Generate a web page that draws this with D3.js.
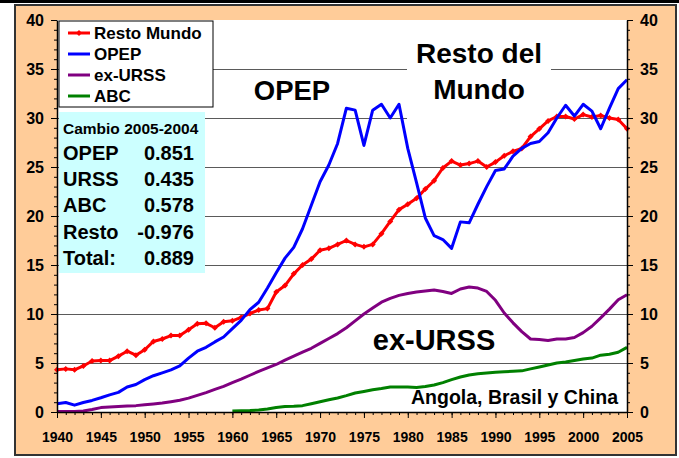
<!DOCTYPE html>
<meta charset="utf-8">
<title>Producción de petróleo 1940-2005</title>
<script src="https://cdn.jsdelivr.net/npm/d3@7"></script>
<style>
body {
	margin: 0;
	background: #fff;
}
svg {
	display: block;
	font-family: 'Liberation Sans', Arial, sans-serif;
	font-weight: bold;
}
</style>
<body>
<script>
// Data (millones de barriles diarios)
const years = d3.range(1940, 2006);
const abcYears = d3.range(1960, 2006);
const restoMundo = [
	4.3, 4.4, 4.3, 4.7, 5.2, 5.25, 5.25, 5.7, 6.2, 5.8,
	6.35, 7.2, 7.45, 7.8, 7.8, 8.4, 9.0, 9.05, 8.6, 9.2,
	9.3, 9.65, 10.05, 10.4, 10.55, 12.25, 12.9, 14.1, 15.0, 15.6,
	16.5, 16.7, 17.1, 17.5, 17.1, 16.85, 17.1, 18.2, 19.45, 20.65,
	21.2, 21.8, 22.75, 23.6, 24.9, 25.6, 25.2, 25.35, 25.6, 25.0,
	25.5, 26.15, 26.6, 26.9, 28.1, 28.9, 29.7, 30.15, 30.15, 29.9,
	30.35, 30.1, 30.25, 30.0, 29.85, 28.9,
];
const opep = [
	0.84, 0.97, 0.7, 0.97, 1.18, 1.45, 1.75, 2.0, 2.55, 2.8,
	3.3, 3.7, 4.0, 4.3, 4.7, 5.5, 6.2, 6.6, 7.15, 7.65,
	8.5, 9.35, 10.45, 11.2, 12.65, 14.2, 15.7, 16.8, 18.7, 21.1,
	23.5, 25.2, 27.4, 31.0, 30.8, 27.2, 30.8, 31.4, 30.0, 31.4,
	26.9, 23.4, 19.8, 18.0, 17.6, 16.7, 19.4, 19.3, 21.2, 23.0,
	24.65, 24.8, 26.1, 26.9, 27.4, 27.6, 28.5, 30.0, 31.3, 30.2,
	31.4, 30.7, 28.9, 31.0, 33.0, 33.9,
];
const exUrss = [
	0.05, 0.05, 0.05, 0.1, 0.25, 0.45, 0.5, 0.55, 0.6, 0.65,
	0.73, 0.82, 0.92, 1.05, 1.2, 1.42, 1.7, 1.98, 2.3, 2.62,
	3.0, 3.35, 3.75, 4.15, 4.5, 4.85, 5.3, 5.7, 6.1, 6.5,
	7.0, 7.5, 8.0, 8.6, 9.3, 10.0, 10.6, 11.2, 11.6, 11.9,
	12.1, 12.25, 12.35, 12.45, 12.3, 12.1, 12.55, 12.75, 12.65, 12.3,
	11.4, 10.1, 9.1, 8.2, 7.45, 7.4, 7.3, 7.45, 7.45, 7.6,
	8.1, 8.75, 9.6, 10.5, 11.45, 11.97,
];
const abc = [
	0.1, 0.12, 0.15, 0.2, 0.3, 0.45, 0.55, 0.58, 0.65, 0.85,
	1.05, 1.25, 1.43, 1.67, 1.94, 2.1, 2.28, 2.4, 2.55, 2.55,
	2.55, 2.5, 2.6, 2.75, 3.0, 3.3, 3.57, 3.78, 3.9, 3.98,
	4.05, 4.1, 4.15, 4.2, 4.4, 4.6, 4.8, 5.0, 5.1, 5.25,
	5.4, 5.5, 5.8, 5.9, 6.1, 6.6,
];
const seriesNames = ['Resto Mundo', 'OPEP', 'ex-URSS', 'ABC'];
const cambioNames = ['OPEP', 'URSS', 'ABC', 'Resto', 'Total:'];
const cambioValues = ['0.851', '0.435', '0.578', '-0.976', '0.889'];
const yTicks = [0, 5, 10, 15, 20, 25, 30, 35, 40];
const xTicks = [1940, 1945, 1950, 1955, 1960, 1965, 1970, 1975, 1980, 1985, 1990, 1995, 2000, 2005];

const colors = ['#ff0000', '#0000ff', '#800080', '#008000'];
const bgColor = '#ffcc99';
const boxColor = '#ccffff';
const gridColor = '#5a5a5a';

const width = 679;
const height = 458;
const margin = {top: 20, right: 52, bottom: 46, left: 57};
const plotW = width - margin.left - margin.right;
const plotH = height - margin.top - margin.bottom;

const x = d3.scaleLinear().domain([1940, 2005]).range([0, plotW]);
const y = d3.scaleLinear().domain([0, 40]).range([plotH, 0]);

const svg = d3.select('body')
	.append('svg')
		.attr('width', width)
		.attr('height', height);

// Frame
svg.append('rect')
	.attr('width', width)
	.attr('height', 3)
	.attr('fill', '#000');
svg.append('rect')
	.attr('x', 15)
	.attr('y', 5)
	.attr('width', 661)
	.attr('height', 450)
	.attr('fill', bgColor)
	.attr('stroke', '#333')
	.attr('stroke-width', 2);

const g = svg.append('g')
	.attr('transform', `translate(${margin.left}, ${margin.top})`);

g.append('rect')
	.attr('width', plotW)
	.attr('height', plotH)
	.attr('fill', '#fff');

// Grid lines
g.append('g')
	.selectAll('line')
	.data(yTicks.filter(d => d > 0 && d < 40))
	.join('line')
		.attr('x1', 0)
		.attr('x2', plotW)
		.attr('y1', d => Math.round(y(d)) + 0.5)
		.attr('y2', d => Math.round(y(d)) + 0.5)
		.attr('stroke', gridColor)
		.attr('stroke-width', 1);

// White box behind the "Resto del Mundo" label
g.append('rect')
	.attr('x', 350)
	.attr('y', 22)
	.attr('width', 144)
	.attr('height', 86)
	.attr('fill', '#fff');

// Series
const line = d3.line()
	.x(d => x(d[0]))
	.y(d => y(d[1]));
const allSeries = [
	years.map((yr, i) => [yr, restoMundo[i]]),
	years.map((yr, i) => [yr, opep[i]]),
	years.map((yr, i) => [yr, exUrss[i]]),
	abcYears.map((yr, i) => [yr, abc[i]]),
];
allSeries.forEach((values, i) => {
	g.append('path')
		.datum(values)
		.attr('fill', 'none')
		.attr('stroke', colors[i])
		.attr('stroke-width', 3)
		.attr('stroke-linejoin', 'round')
		.attr('d', line);
	if (i === 0) {
		g.append('g')
			.selectAll('path')
			.data(values)
			.join('path')
				.attr('d', d3.symbol(d3.symbolSquare, 18))
				.attr('fill', colors[0])
				.attr('transform', d => `translate(${x(d[0])}, ${y(d[1])}) rotate(45)`);
	}
});

// Axes
function styleAxis(sel, fontSize) {
	sel.selectAll('.domain').attr('stroke', '#000').attr('stroke-width', 1.5);
	sel.selectAll('.tick line').attr('stroke', '#000');
	sel.selectAll('text')
		.attr('font-size', fontSize)
		.attr('font-weight', 'bold')
		.attr('font-family', 'Liberation Sans, Arial, sans-serif')
		.attr('fill', '#000');
}
const minorY = d3.range(0, 41);
const minorX = years;

g.append('g')
	.call(d3.axisLeft(y).tickValues(minorY).tickSize(3).tickFormat(''))
	.call(s => s.select('.domain').remove())
	.call(s => s.selectAll('line').attr('stroke', '#000'));
g.append('g')
	.call(d3.axisLeft(y).tickValues(yTicks).tickSize(6).tickSizeOuter(0).tickPadding(7))
	.call(s => styleAxis(s, 16));

g.append('g')
	.attr('transform', `translate(${plotW}, 0)`)
	.call(d3.axisRight(y).tickValues(minorY).tickSize(3).tickFormat(''))
	.call(s => s.select('.domain').remove())
	.call(s => s.selectAll('line').attr('stroke', '#000'));
g.append('g')
	.attr('transform', `translate(${plotW}, 0)`)
	.call(d3.axisRight(y).tickValues(yTicks).tickSize(6).tickSizeOuter(0).tickPadding(7))
	.call(s => styleAxis(s, 16));

g.append('g')
	.attr('transform', `translate(0, ${plotH})`)
	.call(d3.axisBottom(x).tickValues(minorX).tickSize(3).tickFormat(''))
	.call(s => s.select('.domain').remove())
	.call(s => s.selectAll('line').attr('stroke', '#000'));
g.append('g')
	.attr('transform', `translate(0, ${plotH})`)
	.call(d3.axisBottom(x).tickValues(xTicks).tickSize(6).tickSizeOuter(0).tickPadding(14).tickFormat(d3.format('d')))
	.call(s => styleAxis(s, 14));

// Big labels
const label = (text, lx, ly, size, anchor) => g.append('text')
	.attr('x', lx)
	.attr('y', ly)
	.attr('font-size', size)
	.attr('text-anchor', anchor || 'middle')
	.attr('fill', '#000')
	.text(text);
label('OPEP', 235, 80, 27.5);
label('Resto del', 422, 43, 28);
label('Mundo', 422, 79, 28);
label('ex-URSS', 377, 330, 29);
label('Angola, Brasil y China', 561, 384, 19.5, 'end');

// Legend
const legend = g.append('g')
	.attr('transform', 'translate(2, 1)');
legend.append('rect')
	.attr('width', 154)
	.attr('height', 86)
	.attr('fill', '#fff')
	.attr('stroke', '#000');
const items = legend.selectAll('g')
	.data(seriesNames)
	.join('g')
		.attr('transform', (d, i) => `translate(0, ${12 + i * 21})`);
items.append('line')
	.attr('x1', 9)
	.attr('x2', 31)
	.attr('stroke', (d, i) => colors[i])
	.attr('stroke-width', 3);
items.filter((d, i) => i === 0)
	.append('path')
		.attr('d', d3.symbol(d3.symbolSquare, 18))
		.attr('fill', colors[0])
		.attr('transform', 'translate(20, 0) rotate(45)');
items.append('text')
	.attr('x', 35)
	.attr('dy', '0.36em')
	.attr('font-size', 17)
	.text(d => d);

// Cambio 2005-2004 box
const box = g.append('g')
	.attr('transform', 'translate(2, 92)');
box.append('rect')
	.attr('width', 146)
	.attr('height', 161)
	.attr('fill', boxColor);
box.append('text')
	.attr('x', 4)
	.attr('y', 22)
	.attr('font-size', 15.5)
	.text('Cambio 2005-2004');
const rows = box.selectAll('g.row')
	.data(cambioNames)
	.join('g')
		.attr('class', 'row')
		.attr('transform', (d, i) => `translate(0, ${48 + i * 26.2})`);
rows.append('text')
	.attr('x', 4)
	.attr('font-size', 20)
	.text(d => d);
rows.append('text')
	.attr('x', 135)
	.attr('font-size', 20)
	.attr('text-anchor', 'end')
	.text((d, i) => cambioValues[i]);
</script>
</body>
